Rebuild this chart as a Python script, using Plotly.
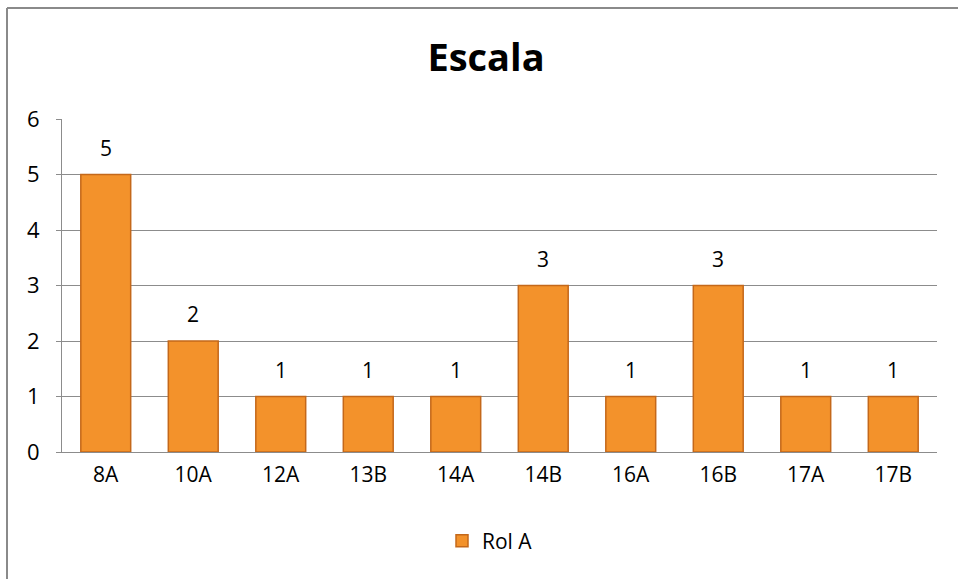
import plotly.graph_objects as go

categories = ["8A", "10A", "12A", "13B", "14A", "14B", "16A", "16B", "17A", "17B"]
values = [5, 2, 1, 1, 1, 3, 1, 3, 1, 1]
series_name = "Rol A"
y_ticks = [0, 1, 2, 3, 4, 5, 6]

W, H = 958, 579
L, R, T, B = 62, 937, 119, 452

def px_x(px):
    return (px - L) / (R - L)

def px_y(py):
    return (B - py) / (B - T)

fig = go.Figure()
fig.add_trace(go.Bar(
    x=categories, y=values, name=series_name,
    marker=dict(color="#F3922B", line=dict(color="#C4681A", width=1.5)),
    showlegend=True,
))

annotations = [
    dict(x=c, y=v, xref="x", yref="y", text=str(v), showarrow=False,
         yshift=27, font=dict(family="Open Sans", size=21, color="#000000"))
    for c, v in zip(categories, values)
]

fig.update_layout(
    width=W, height=H,
    margin=dict(l=L, r=W - R, t=T, b=H - B),
    paper_bgcolor="white", plot_bgcolor="white",
    bargap=0.43,
    title=dict(text="<b>Escala</b>", x=486 / W, xanchor="center",
               y=1 - 58 / H, yanchor="middle",
               font=dict(family="Open Sans", size=38, color="#000000")),
    font=dict(family="Open Sans", color="#000000"),
    xaxis=dict(showline=True, linecolor="#8c8c8c", linewidth=1, showgrid=False,
               tickfont=dict(size=21), ticks="", ticklabelstandoff=4),
    yaxis=dict(range=[0, 6], tickvals=y_ticks, showgrid=True, gridcolor="#8c8c8c", gridwidth=1,
               showline=True, linecolor="#8c8c8c", linewidth=1, zeroline=False,
               tickfont=dict(size=22), ticks="outside", ticklen=5, tickcolor="#8c8c8c",
               ticklabelstandoff=12),
    legend=dict(orientation="h", x=px_x(490), xanchor="center", y=px_y(541), yanchor="middle",
                font=dict(size=21), itemwidth=30),
    annotations=annotations,
    shapes=[
        dict(type="line", xref="paper", yref="paper", x0=px_x(7), x1=px_x(7), y0=px_y(8), y1=px_y(600),
             line=dict(color="#8a8a8a", width=2)),
        dict(type="line", xref="paper", yref="paper", x0=px_x(7), x1=px_x(1000), y0=px_y(8), y1=px_y(8),
             line=dict(color="#8a8a8a", width=2)),
    ],
)

fig.write_html("out.html")
